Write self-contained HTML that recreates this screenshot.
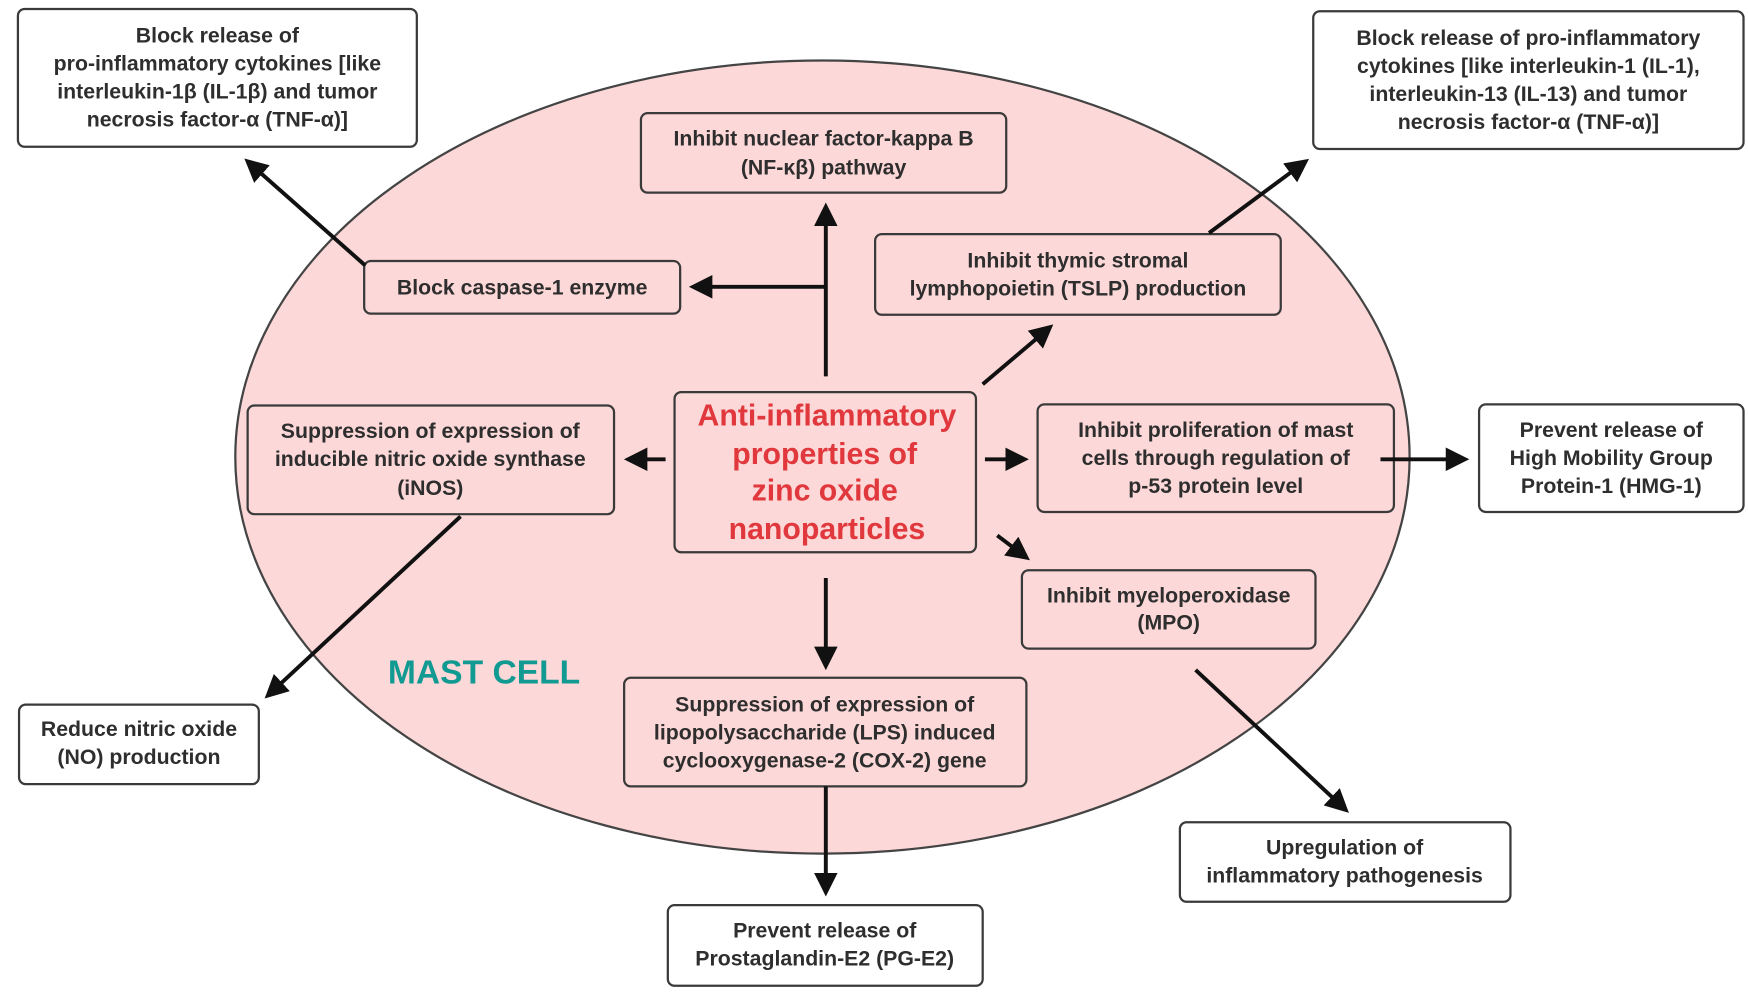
<!DOCTYPE html>
<html><head><meta charset="utf-8"><style>
html,body{margin:0;padding:0;background:#fff;}
svg{display:block;}
text{font-family:"Liberation Sans",sans-serif;font-weight:bold;fill:#2e2e2e;text-anchor:middle;}
.b{fill:#fdd8d8;stroke:#3a3a3a;stroke-width:2;}
.w{fill:#fff;stroke:#3a3a3a;stroke-width:2;}
.a{stroke:#111;stroke-width:3.5;fill:none;marker-end:url(#ah);}
</style></head><body>
<svg width="1748" height="997" viewBox="0 0 1560 890" preserveAspectRatio="none" xmlns="http://www.w3.org/2000/svg">
<defs><marker id="ah" markerWidth="6" markerHeight="6" refX="4.5" refY="3" orient="auto" markerUnits="strokeWidth"><path d="M0,0 L6,3 L0,6 Z" fill="#111"/></marker></defs>
<ellipse cx="734" cy="408" rx="524" ry="354" fill="#fdd8d8" stroke="#444" stroke-width="2"/>

<g font-size="19">
<rect class="w" x="16" y="8" width="356" height="123" rx="6"/>
<text x="194" y="38">Block release of</text><text x="194" y="63">pro-inflammatory cytokines [like</text><text x="194" y="88">interleukin-1β (IL-1β) and tumor</text><text x="194" y="113">necrosis factor-α (TNF-α)]</text>

<rect class="w" x="1172" y="10" width="384" height="123" rx="6"/>
<text x="1364" y="40">Block release of pro-inflammatory</text><text x="1364" y="65">cytokines [like interleukin-1 (IL-1),</text><text x="1364" y="90">interleukin-13 (IL-13) and tumor</text><text x="1364" y="115">necrosis factor-α (TNF-α)]</text>

<rect class="b" x="572" y="101" width="326" height="71" rx="6"/>
<text x="735" y="130">Inhibit nuclear factor-kappa B</text><text x="735" y="156">(NF-κβ) pathway</text>

<rect class="b" x="325" y="233" width="282" height="47" rx="6"/>
<text x="466" y="263">Block caspase-1 enzyme</text>

<rect class="b" x="781" y="209" width="362" height="72" rx="6"/>
<text x="962" y="239">Inhibit thymic stromal</text><text x="962" y="264">lymphopoietin (TSLP) production</text>

<rect class="b" x="221" y="362" width="327" height="97" rx="6"/>
<text x="384" y="391">Suppression of expression of</text><text x="384" y="416">inducible nitric oxide synthase</text><text x="384" y="442">(iNOS)</text>

<rect class="b" x="602" y="350" width="269" height="143" rx="6"/>
<g font-size="27"><text x="738" y="380" style="fill:#e0383c">Anti-inflammatory</text><text x="736" y="414" style="fill:#e0383c">properties of</text><text x="736" y="447" style="fill:#e0383c">zinc oxide</text><text x="738" y="481" style="fill:#e0383c">nanoparticles</text></g>

<rect class="b" x="926" y="361" width="318" height="96" rx="6"/>
<text x="1085" y="390">Inhibit proliferation of mast</text><text x="1085" y="415">cells through regulation of</text><text x="1085" y="440">p-53 protein level</text>

<rect class="w" x="1320" y="361" width="236" height="96" rx="6"/>
<text x="1438" y="390">Prevent release of</text><text x="1438" y="415">High Mobility Group</text><text x="1438" y="440">Protein-1 (HMG-1)</text>

<rect class="b" x="912" y="509" width="262" height="70" rx="6"/>
<text x="1043" y="538">Inhibit myeloperoxidase</text><text x="1043" y="562">(MPO)</text>

<rect class="b" x="557" y="605" width="359" height="97" rx="6"/>
<text x="736" y="635">Suppression of expression of</text><text x="736" y="660">lipopolysaccharide (LPS) induced</text><text x="736" y="685">cyclooxygenase-2 (COX-2) gene</text>

<rect class="w" x="17" y="629" width="214" height="71" rx="6"/>
<text x="124" y="657">Reduce nitric oxide</text><text x="124" y="682">(NO) production</text>

<rect class="w" x="1053" y="734" width="295" height="71" rx="6"/>
<text x="1200" y="763">Upregulation of</text><text x="1200" y="788">inflammatory pathogenesis</text>

<rect class="w" x="596" y="808" width="281" height="72" rx="6"/>
<text x="736" y="837">Prevent release of</text><text x="736" y="862">Prostaglandin-E2 (PG-E2)</text>
</g>

<text x="432" y="610" font-size="30" style="fill:#119a92">MAST CELL</text>

<line class="a" x1="737" y1="336" x2="737" y2="186"/>
<line class="a" x1="737" y1="256" x2="620" y2="256"/>
<line class="a" x1="326" y1="237" x2="222" y2="145"/>
<line class="a" x1="1079" y1="208" x2="1164" y2="145"/>
<line class="a" x1="877" y1="343" x2="936" y2="293"/>
<line class="a" x1="594" y1="410" x2="562" y2="410"/>
<line class="a" x1="879" y1="410" x2="913" y2="410"/>
<line class="a" x1="1232" y1="410" x2="1306" y2="410"/>
<line class="a" x1="890" y1="478" x2="915" y2="497"/>
<line class="a" x1="737" y1="516" x2="737" y2="593"/>
<line class="a" x1="737" y1="702" x2="737" y2="795"/>
<line class="a" x1="411" y1="461" x2="240" y2="620"/>
<line class="a" x1="1067" y1="598" x2="1200" y2="722"/>
</svg>
</body></html>
